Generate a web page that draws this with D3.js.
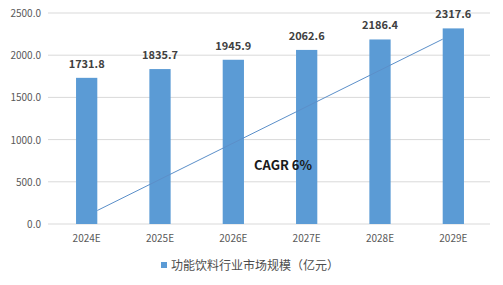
<!DOCTYPE html>
<html>
<head>
<meta charset="utf-8">
<script src="https://cdn.jsdelivr.net/npm/d3@7"></script>
<style>
body{margin:0;background:#fff;}
text{font-family:"Noto Sans CJK SC","Liberation Sans",sans-serif;}
</style>
</head>
<body>
<div id="chart"></div>
<script>
// data
var years = ["2024E","2025E","2026E","2027E","2028E","2029E"]
var marketSize = [1731.8,1835.7,1945.9,2062.6,2186.4,2317.6]
var yTicks = [0,500,1000,1500,2000,2500]
// the drawn trend arrow: from right side of first bar to left side of last bar
var trendLine = [{year:"2024E", value:160, side:1},{year:"2029E", value:2190, side:0}]
var seriesName = "功能饮料行业市场规模（亿元）"
var cagrText = "CAGR 6%"

var width = 503, height = 285
var svg = d3.select("#chart").append("svg").attr("width",width).attr("height",height)

var xScale = d3.scaleBand().domain(years).range([50,490]).paddingInner(0.71).paddingOuter(0.355)
var yScale = d3.scaleLinear().domain([0,2500]).range([224,13])

//gridlines
svg.selectAll(".grid").data(yTicks).enter().append("line")
	.attr("x1",48).attr("x2",490)
	.attr("y1",function(d){return yScale(d)}).attr("y2",function(d){return yScale(d)})
	.attr("stroke","#d9d9d9").attr("stroke-width",1)

//y labels
svg.selectAll(".ylab").data(yTicks).enter().append("text")
	.attr("x",41).attr("y",function(d){return yScale(d)+4})
	.attr("text-anchor","end")
	.attr("font-size","10px").attr("fill","#595959")
	.text(function(d){return d.toFixed(1)})

//bars
svg.selectAll(".bar").data(marketSize).enter().append("rect")
	.attr("x",function(d,i){return xScale(years[i])})
	.attr("width",xScale.bandwidth())
	.attr("y",function(d){return yScale(d)})
	.attr("height",function(d){return yScale(0)-yScale(d)})
	.attr("fill","#5b9bd5")

//value labels
svg.selectAll(".val").data(marketSize).enter().append("text")
	.attr("x",function(d,i){return xScale(years[i])+xScale.bandwidth()/2})
	.attr("y",function(d){return yScale(d)-10})
	.attr("text-anchor","middle")
	.attr("font-size","11px").attr("font-weight","bold").attr("fill","#404040")
	.text(function(d){return d.toFixed(1)})

//x labels
svg.selectAll(".xlab").data(years).enter().append("text")
	.attr("x",function(d){return xScale(d)+xScale.bandwidth()/2})
	.attr("y",242)
	.attr("text-anchor","middle")
	.attr("font-size","10px").attr("fill","#595959")
	.text(function(d){return d})

//trend line
var line = d3.line()
	.x(function(d){return xScale(d.year)+d.side*xScale.bandwidth()})
	.y(function(d){return yScale(d.value)})
svg.append("path").datum(trendLine)
	.attr("d",line).attr("fill","none")
	.attr("stroke","#5b8fc9").attr("stroke-width",1)

svg.append("text")
	.attr("x",254).attr("y",170)
	.attr("font-size","13px").attr("font-weight","bold").attr("fill","#1a1a1a")
	.text(cagrText)

//legend
svg.append("rect").attr("x",161).attr("y",262).attr("width",6).attr("height",6).attr("fill","#5b9bd5")
svg.append("text").attr("x",171).attr("y",270)
	.attr("font-size","12px").attr("fill","#4d4d4d")
	.text(seriesName)
</script>
</body>
</html>
